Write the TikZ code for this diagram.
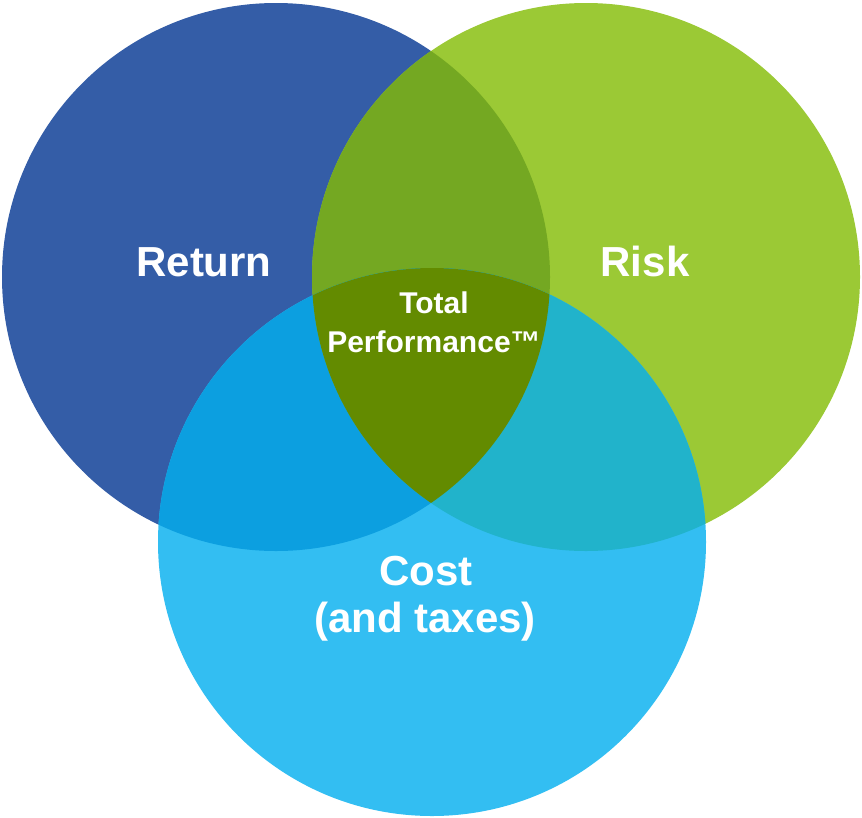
\documentclass[tikz,border=0pt]{standalone}
\usepackage{fontspec}
\setmainfont{Liberation Sans}
\definecolor{retblue}{HTML}{345DA7}
\definecolor{riskgreen}{HTML}{9BC935}
\definecolor{costblue}{HTML}{33BEF2}
\definecolor{retrisk}{HTML}{74A822}
\definecolor{retcost}{HTML}{0C9FE0}
\definecolor{riskcost}{HTML}{21B3CB}
\definecolor{allthree}{HTML}{638B00}
\tikzset{
  lbl/.style={text=white, font=\bfseries\fontsize{42}{50}\selectfont, anchor=base, inner sep=0pt},
  smalllbl/.style={text=white, font=\bfseries\fontsize{30}{36}\selectfont, anchor=base, inner sep=0pt}
}
\begin{document}
\begin{tikzpicture}[x=1pt, y=-1pt]
\useasboundingbox (0,0) rectangle (862,817);
\def\rad{274}
% the three sets
\fill[retblue] (276,277) circle (\rad);
\fill[riskgreen] (586,277) circle (\rad);
\fill[costblue] (432,542) circle (\rad);
% pairwise overlaps
\begin{scope}
  \clip (276,277) circle (\rad);
  \fill[retrisk] (586,277) circle (\rad);
  \fill[retcost] (432,542) circle (\rad);
\end{scope}
\begin{scope}
  \clip (586,277) circle (\rad);
  \fill[riskcost] (432,542) circle (\rad);
\end{scope}
% centre overlap
\begin{scope}
  \clip (276,277) circle (\rad);
  \clip (586,277) circle (\rad);
  \fill[allthree] (432,542) circle (\rad);
\end{scope}
% labels
\node[lbl] (ret) at (204,276) {Return};
\node[lbl] (risk) at (645,276) {Risk};
\node[lbl] (cost) at (426,585) {Cost};
\node[lbl] (tax) at (425,632) {(and taxes)};
\node[smalllbl] (tot) at (434,313) {Total};
\node[smalllbl] (perf) at (434,352) {Performance™};
\end{tikzpicture}
\end{document}
